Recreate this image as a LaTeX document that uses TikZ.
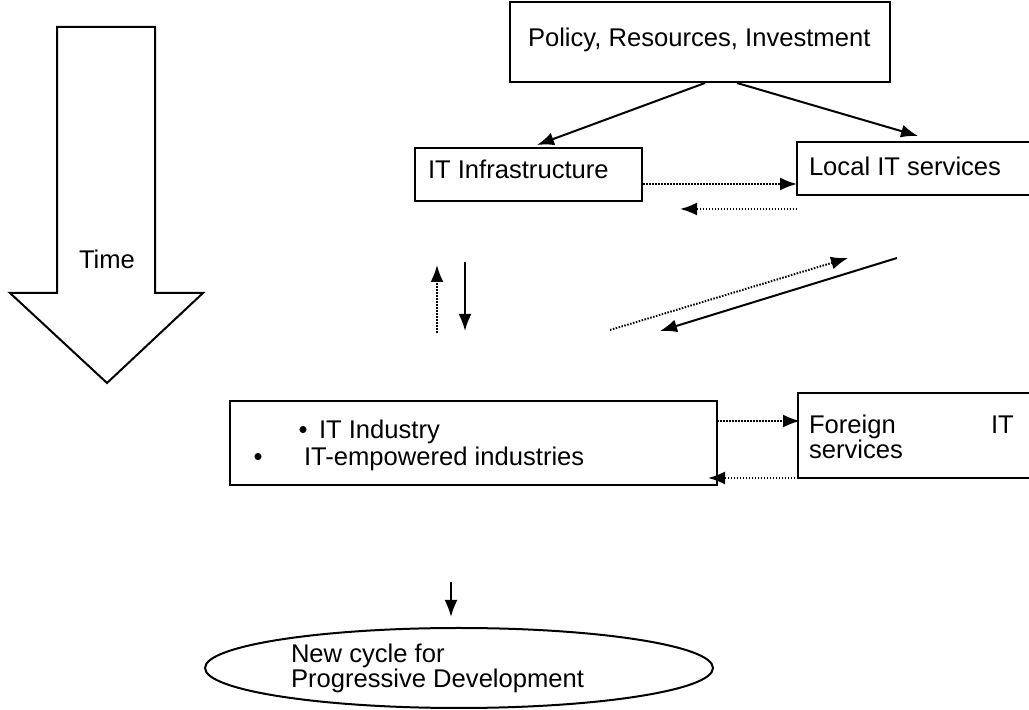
\documentclass[tikz,border=0pt]{standalone}
\usepackage{fontspec}
\setmainfont{Liberation Sans}
\usetikzlibrary{shapes.geometric,arrows.meta}
\newlength{\du}
\setlength{\du}{0.5pt}

\begin{document}
\begin{tikzpicture}[every node/.style={inner sep=0pt,font=\fontsize{12.8}{15}\selectfont},
  box/.style={draw,rectangle,line width=2\du,minimum width=#1},
  box/.default=100\du,
  arr/.style={-{Latex[length=8.5pt,width=6.5pt]}}]
\pgftransformxscale{1.000000}
\pgftransformyscale{-1.000000}
\useasboundingbox (0\du,0\du) rectangle (1029\du,710\du);
\definecolor{dialinecolor}{rgb}{0.000000, 0.000000, 0.000000}
\pgfsetstrokecolor{dialinecolor}
\definecolor{dialinecolor}{rgb}{1.000000, 1.000000, 1.000000}
\pgfsetfillcolor{dialinecolor}
% time arrow
\pgfsetlinewidth{2\du}
\pgfsetmiterjoin
\filldraw (57\du,27\du)--(155\du,27\du)--(155\du,293\du)--(203\du,293\du)--(107\du,383\du)--(10\du,293\du)--(57\du,293\du)--cycle;
\node[anchor=base] (time) at (107\du,269\du){Time};
% boxes
\node[box=380\du,minimum height=80\du] (policy) at (700\du,42\du){};
\node[anchor=base west] (policytxt) at (527\du,47\du){Policy, Resources, Investment};
\node[box=227\du,minimum height=53\du] (infra) at (528.5\du,174.5\du){};
\node[anchor=base west] (infratxt) at (427\du,179\du){IT Infrastructure};
\node[box=234\du,minimum height=53\du] (local) at (914\du,168.5\du){};
\node[anchor=base west] (localtxt) at (808\du,176\du){Local IT services};
\node[box=487\du,minimum height=84\du] (industry) at (473.5\du,443\du){};
\node[anchor=base] (dot1) at (303\du,439\du){\textbullet};
\node[anchor=base west] (industrytxt) at (318\du,439\du){IT Industry};
\node[anchor=base] (dot2) at (258\du,466\du){\textbullet};
\node[anchor=base west] (empowertxt) at (303\du,466\du){IT-empowered industries};
\node[box=234\du,minimum height=85\du] (foreign) at (915\du,435.5\du){};
\node[anchor=base west] (foreigntxt) at (808\du,434\du){Foreign};
\node[anchor=base west] (ittxt) at (990\du,434\du){IT};
\node[anchor=base west] (servicestxt) at (808\du,459\du){services};
\node[draw,ellipse,line width=2\du,minimum width=508\du,minimum height=80\du] (cycle) at (459\du,668\du){};
\node[anchor=base west] (newtxt) at (290\du,663\du){New cycle for};
\node[anchor=base west] (progtxt) at (290\du,688\du){Progressive Development};
% arrow ends
\coordinate (policyL) at (705\du,83\du);
\coordinate (infraT) at (537\du,145\du);
\coordinate (policyR) at (737\du,83\du);
\coordinate (localT) at (918\du,136\du);
\coordinate (infraE) at (643\du,184\du);
\coordinate (localW) at (797\du,184\du);
\coordinate (localS) at (797\du,209\du);
\coordinate (infraS) at (680\du,209\du);
\coordinate (upA) at (437\du,333\du);
\coordinate (upB) at (437\du,265\du);
\coordinate (downA) at (465\du,262\du);
\coordinate (downB) at (465\du,331\du);
\coordinate (diagA) at (610\du,330\du);
\coordinate (diagB) at (848\du,258\du);
\coordinate (diagC) at (897\du,258\du);
\coordinate (diagD) at (660\du,331\du);
\coordinate (industryE) at (717\du,421\du);
\coordinate (foreignW) at (800\du,421\du);
\coordinate (foreignS) at (798\du,478\du);
\coordinate (industryS) at (708\du,478\du);
\coordinate (nextA) at (451\du,582\du);
\coordinate (nextB) at (451\du,617\du);
% solid arrows
\pgfsetlinewidth{2\du}
\pgfsetdash{}{0pt}
\pgfsetbuttcap
{
\definecolor{dialinecolor}{rgb}{0.000000, 0.000000, 0.000000}
\pgfsetfillcolor{dialinecolor}
\draw[arr] (policyL)--(infraT);
\draw[arr] (policyR)--(localT);
\draw[arr] (downA)--(downB);
\draw[arr] (diagC)--(diagD);
\draw[arr] (nextA)--(nextB);
}
% dotted arrows
\pgfsetlinewidth{2\du}
\pgfsetdash{{1.5\du}{1.5\du}}{0pt}
{
\definecolor{dialinecolor}{rgb}{0.000000, 0.000000, 0.000000}
\pgfsetfillcolor{dialinecolor}
\draw[arr] (infraE)--(localW);
\draw[arr] (localS)--(infraS);
\draw[arr] (upA)--(upB);
\draw[arr] (diagA)--(diagB);
\draw[arr] (industryE)--(foreignW);
\draw[arr] (foreignS)--(industryS);
}
\end{tikzpicture}
\end{document}
